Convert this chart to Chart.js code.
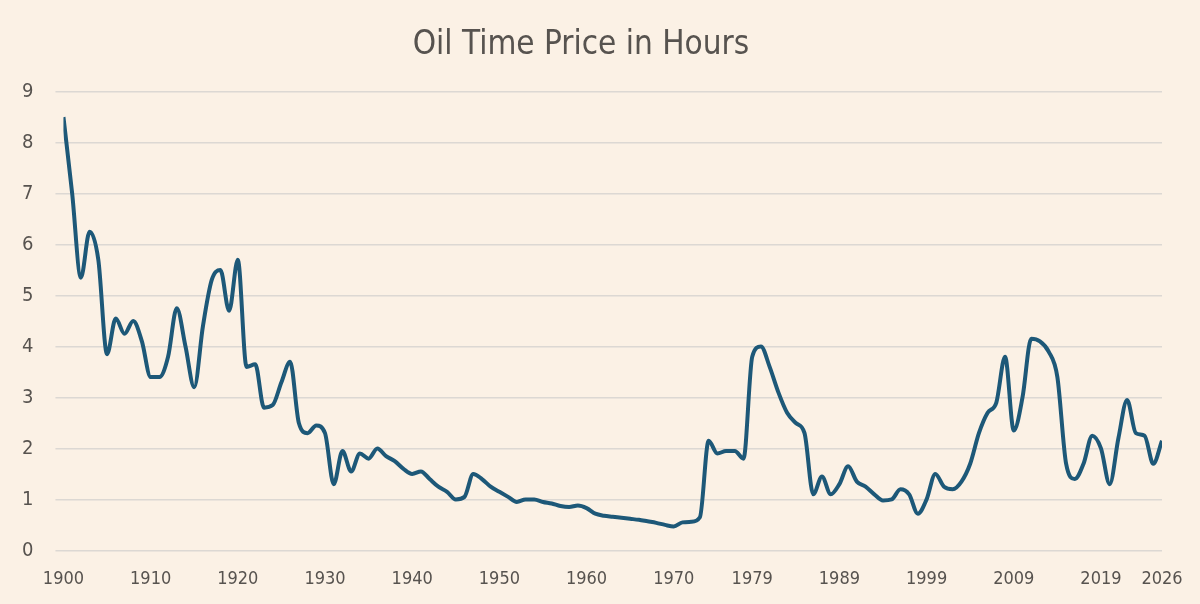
<!DOCTYPE html>
<html><head><meta charset="utf-8">
<script src="https://cdn.jsdelivr.net/npm/chart.js@4"></script>
<style>html,body{margin:0;padding:0;background:#fbf1e5;}#w{width:1200px;height:604px;}</style>
</head><body><div id="w"><canvas id="c"></canvas></div>
<script>
const years = [];
for (let y = 1900; y <= 2026; y++) years.push(y);
const hours = [8.5,7.0,5.35,6.25,5.7,3.85,4.55,4.25,4.5,4.1,
3.4,3.4,3.8,4.75,4.0,3.2,4.4,5.3,5.5,4.7,
5.7,3.6,3.65,2.8,2.85,3.3,3.7,2.5,2.3,2.45,
2.3,1.3,1.95,1.55,1.9,1.8,2.0,1.85,1.75,1.6,
1.5,1.55,1.4,1.25,1.15,1.0,1.05,1.5,1.4,1.25,
1.15,1.05,0.95,1.0,1.0,0.95,0.92,0.87,0.85,0.88,
0.83,0.72,0.68,0.66,0.64,0.62,0.6,0.57,0.54,0.5,
0.47,0.55,0.56,0.65,2.15,1.9,1.95,1.95,1.8,3.8,
4.0,3.6,3.1,2.7,2.5,2.3,1.1,1.45,1.1,1.3,
1.65,1.35,1.25,1.1,0.98,1.0,1.2,1.1,0.72,1.0,
1.5,1.25,1.2,1.35,1.7,2.3,2.7,2.9,3.8,2.35,
3.0,4.15,4.1,3.9,3.4,1.7,1.4,1.7,2.25,2.0,
1.3,2.2,2.95,2.3,2.25,1.7,2.15];
const xTickYears = [1900,1910,1920,1930,1940,1950,1960,1970,1979,1989,1999,2009,2019,2026];
const yTicks = [0,1,2,3,4,5,6,7,8,9];
const FONT = "'DejaVu Sans Condensed','DejaVu Sans',sans-serif";
new Chart(document.getElementById('c'), {
  type: 'line',
  data: { datasets: [{ data: years.map((y,i)=>({x:y,y:hours[i]})), borderColor:'#1d5878', borderWidth:4, pointRadius:0, cubicInterpolationMode:'monotone', fill:false }] },
  options: {
    responsive:true, maintainAspectRatio:false, animation:false,
    layout:{padding:{left:0,right:38,top:14,bottom:4}},
    plugins:{ legend:{display:false}, tooltip:{enabled:false},
      title:{display:true,text:'Oil Time Price in Hours',color:'#57534f',font:{family:FONT,size:33,weight:'normal'},padding:{top:12,bottom:26}} },
    scales:{
      x:{ type:'linear', min:1900, max:2026,
        afterBuildTicks:(ax)=>{ax.ticks = xTickYears.map(v=>({value:v}));},
        grid:{display:false}, border:{display:false},
        ticks:{color:'#57534f',font:{family:FONT,size:18},maxRotation:0,autoSkip:false,callback:v=>String(v),padding:10} },
      y:{ min:0, max:9,
        afterBuildTicks:(ax)=>{ax.ticks = yTicks.map(v=>({value:v}));},
        grid:{color:'#dcd8d3',lineWidth:1.5}, border:{display:false},
        ticks:{color:'#57534f',font:{family:FONT,size:20},padding:22} }
    }
  }
});
</script></body></html>
